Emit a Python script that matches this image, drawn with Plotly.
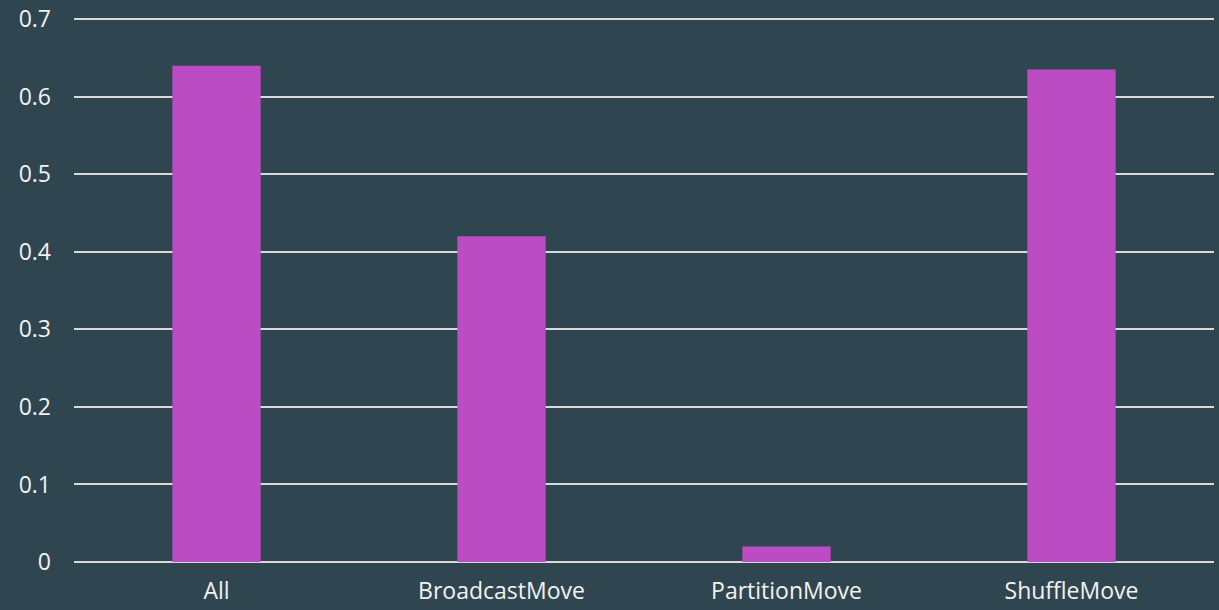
import plotly.graph_objects as go

categories = ["All", "BroadcastMove", "PartitionMove", "ShuffleMove"]
values = [0.64, 0.42, 0.02, 0.635]
y_ticks = [0, 0.1, 0.2, 0.3, 0.4, 0.5, 0.6, 0.7]
y_tick_labels = ["0", "0.1", "0.2", "0.3", "0.4", "0.5", "0.6", "0.7"]

bg = "#2f4651"
bar_color = "#bc4cc4"
grid_color = "#d9d9d9"
font = dict(family="Open Sans, Lato, sans-serif", size=23, color="#f2f2f2")

fig = go.Figure(
    go.Bar(
        x=categories,
        y=values,
        marker=dict(color=bar_color, line=dict(width=0)),
        width=0.31,
    )
)

fig.update_layout(
    width=1219,
    height=610,
    margin=dict(l=74, r=5, t=18, b=48),
    paper_bgcolor=bg,
    plot_bgcolor=bg,
    font=font,
    showlegend=False,
)
fig.update_xaxes(
    automargin=False,
    showgrid=False,
    showline=False,
    ticks="",
    tickfont=font,
    ticklabelstandoff=13,
)
fig.update_yaxes(
    automargin=False,
    range=[0, 0.7015],
    tickvals=y_ticks,
    ticktext=y_tick_labels,
    showgrid=True,
    gridcolor=grid_color,
    gridwidth=1.5,
    zeroline=True,
    zerolinecolor=grid_color,
    zerolinewidth=1.5,
    showline=False,
    ticks="",
    tickfont=font,
    ticklabelstandoff=22,
)

fig.write_html("out.html")
